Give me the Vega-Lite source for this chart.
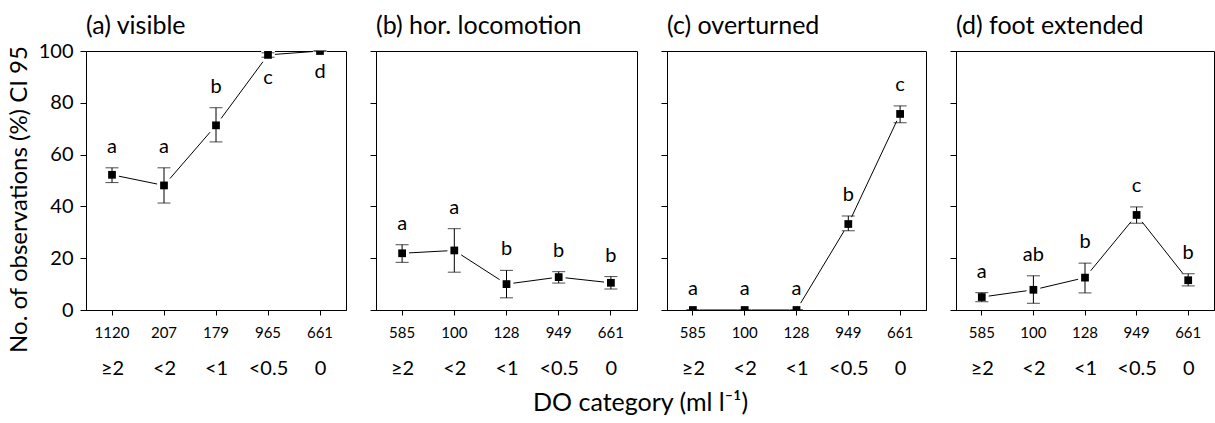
{
  "$schema": "https://vega.github.io/schema/vega-lite/v6.json",
  "background": "white",
  "padding": {"left": 6, "top": 13, "right": 0, "bottom": 5},
  "datasets": {
    "obs": [
      {"panel": "a", "cat": "≥2", "n": "1120", "p": 52.2, "lo": 49.2, "hi": 54.9, "sig": "a"},
      {"panel": "a", "cat": "<2", "n": "207", "p": 48.1, "lo": 41.3, "hi": 54.9, "sig": "a"},
      {"panel": "a", "cat": "<1", "n": "179", "p": 71.3, "lo": 64.9, "hi": 78.1, "sig": "b"},
      {"panel": "a", "cat": "<0.5", "n": "965", "p": 98.5, "lo": 97.6, "hi": 99.3, "sig": "c"},
      {"panel": "a", "cat": "0", "n": "661", "p": 100, "lo": 100, "hi": 100, "sig": "d"},
      {"panel": "b", "cat": "≥2", "n": "585", "p": 21.9, "lo": 18.4, "hi": 25.2, "sig": "a"},
      {"panel": "b", "cat": "<2", "n": "100", "p": 23.0, "lo": 14.6, "hi": 31.4, "sig": "a"},
      {"panel": "b", "cat": "<1", "n": "128", "p": 10.0, "lo": 4.7, "hi": 15.3, "sig": "b"},
      {"panel": "b", "cat": "<0.5", "n": "949", "p": 12.7, "lo": 10.4, "hi": 14.8, "sig": "b"},
      {"panel": "b", "cat": "0", "n": "661", "p": 10.5, "lo": 8.1, "hi": 12.9, "sig": "b"},
      {"panel": "c", "cat": "≥2", "n": "585", "p": 0, "lo": 0, "hi": 0, "sig": "a"},
      {"panel": "c", "cat": "<2", "n": "100", "p": 0, "lo": 0, "hi": 0, "sig": "a"},
      {"panel": "c", "cat": "<1", "n": "128", "p": 0, "lo": 0, "hi": 0, "sig": "a"},
      {"panel": "c", "cat": "<0.5", "n": "949", "p": 33.2, "lo": 30.6, "hi": 36.3, "sig": "b"},
      {"panel": "c", "cat": "0", "n": "661", "p": 75.7, "lo": 72.3, "hi": 78.8, "sig": "c"},
      {"panel": "d", "cat": "≥2", "n": "585", "p": 5.0, "lo": 3.2, "hi": 6.7, "sig": "a"},
      {"panel": "d", "cat": "<2", "n": "100", "p": 7.8, "lo": 2.6, "hi": 13.2, "sig": "ab"},
      {"panel": "d", "cat": "<1", "n": "128", "p": 12.5, "lo": 6.6, "hi": 18.1, "sig": "b"},
      {"panel": "d", "cat": "<0.5", "n": "949", "p": 36.7, "lo": 33.5, "hi": 39.8, "sig": "c"},
      {"panel": "d", "cat": "0", "n": "661", "p": 11.5, "lo": 9.3, "hi": 14.0, "sig": "b"}
    ]
  },
  "data": {"name": "obs"},
  "title": {"text": "DO category (ml l⁻¹)", "orient": "bottom", "anchor": "middle", "frame": "bounds", "fontSize": 25, "offset": 12, "dx": 30},
  "spacing": 30,
  "bounds": "flush",
  "hconcat": [
    {
      "width": 260, "height": 259,
      "title": {"text": "(a) visible", "offset": 2},
      "transform": [{"filter": "datum.panel === 'a'"}],
      "resolve": {"scale": {"x": "independent"}},
      "layer": [
        {
          "encoding": {"x": {"field": "n", "type": "nominal", "sort": null, "axis": {"orient": "bottom", "title": null, "labelAngle": 0, "labelFontSize": 15, "tickSize": 5, "labelPadding": 10}}},
          "layer": [
            {"mark": {"type": "line", "strokeWidth": 1, "clip": true}, "encoding": {"y": {"field": "p", "type": "quantitative", "title": "No. of observations (%) CI 95", "scale": {"domain": [0, 100], "nice": false}, "axis": {"values": [0, 20, 40, 60, 80, 100], "titleFontSize": 24, "titleFontWeight": "normal", "titleY": 148, "titlePadding": 7, "labelFontSize": 20, "tickSize": 6, "labelPadding": 7}}}},
            {"mark": {"type": "square", "filled": true, "color": "white", "opacity": 1, "size": 190, "clip": true}, "encoding": {"y": {"field": "p", "type": "quantitative", "title": "No. of observations (%) CI 95", "scale": {"domain": [0, 100], "nice": false}}}},
            {"mark": {"type": "rule", "strokeWidth": 1}, "encoding": {"y": {"field": "lo", "type": "quantitative", "title": "No. of observations (%) CI 95", "scale": {"domain": [0, 100], "nice": false}}, "y2": {"field": "hi"}}},
            {"mark": {"type": "tick", "size": 13, "thickness": 1, "orient": "horizontal"}, "encoding": {"y": {"field": "lo", "type": "quantitative", "title": "No. of observations (%) CI 95", "scale": {"domain": [0, 100], "nice": false}}}},
            {"mark": {"type": "tick", "size": 13, "thickness": 1, "orient": "horizontal"}, "encoding": {"y": {"field": "hi", "type": "quantitative", "title": "No. of observations (%) CI 95", "scale": {"domain": [0, 100], "nice": false}}}},
            {"mark": {"type": "square", "filled": true, "opacity": 1, "size": 60, "clip": true}, "encoding": {"y": {"field": "p", "type": "quantitative", "title": "No. of observations (%) CI 95", "scale": {"domain": [0, 100], "nice": false}}}},
            {"transform": [{"filter": "datum.hi < 99"}], "mark": {"type": "text", "dy": -21, "fontSize": 20, "baseline": "middle"}, "encoding": {"y": {"field": "hi", "type": "quantitative", "title": "No. of observations (%) CI 95", "scale": {"domain": [0, 100], "nice": false}}, "text": {"field": "sig"}}},
            {"transform": [{"filter": "datum.hi >= 99"}], "mark": {"type": "text", "dy": 21, "fontSize": 20, "baseline": "middle"}, "encoding": {"y": {"field": "lo", "type": "quantitative", "title": "No. of observations (%) CI 95", "scale": {"domain": [0, 100], "nice": false}}, "text": {"field": "sig"}}}
          ]
        },
        {"mark": {"type": "text", "text": ""}, "encoding": {"x": {"field": "cat", "type": "nominal", "sort": null, "axis": {"orient": "bottom", "title": null, "labelAngle": 0, "labelFontSize": 20, "domain": false, "ticks": false, "labelPadding": 48}}}}
      ]
    },
    {
      "width": 261, "height": 259,
      "title": {"text": "(b) hor. locomotion"},
      "transform": [{"filter": "datum.panel === 'b'"}],
      "resolve": {"scale": {"x": "independent"}},
      "layer": [
        {
          "encoding": {"x": {"field": "n", "type": "nominal", "sort": null, "axis": {"orient": "bottom", "title": null, "labelAngle": 0, "labelFontSize": 15, "tickSize": 5, "labelPadding": 10}}},
          "layer": [
            {"mark": {"type": "line", "strokeWidth": 1, "clip": true}, "encoding": {"y": {"field": "p", "type": "quantitative", "title": null, "scale": {"domain": [0, 100], "nice": false}, "axis": {"values": [0, 20, 40, 60, 80, 100], "labels": false, "tickSize": 6}}}},
            {"mark": {"type": "square", "filled": true, "color": "white", "opacity": 1, "size": 190, "clip": true}, "encoding": {"y": {"field": "p", "type": "quantitative", "title": null, "scale": {"domain": [0, 100], "nice": false}}}},
            {"mark": {"type": "rule", "strokeWidth": 1}, "encoding": {"y": {"field": "lo", "type": "quantitative", "title": null, "scale": {"domain": [0, 100], "nice": false}}, "y2": {"field": "hi"}}},
            {"mark": {"type": "tick", "size": 13, "thickness": 1, "orient": "horizontal"}, "encoding": {"y": {"field": "lo", "type": "quantitative", "title": null, "scale": {"domain": [0, 100], "nice": false}}}},
            {"mark": {"type": "tick", "size": 13, "thickness": 1, "orient": "horizontal"}, "encoding": {"y": {"field": "hi", "type": "quantitative", "title": null, "scale": {"domain": [0, 100], "nice": false}}}},
            {"mark": {"type": "square", "filled": true, "opacity": 1, "size": 60, "clip": true}, "encoding": {"y": {"field": "p", "type": "quantitative", "title": null, "scale": {"domain": [0, 100], "nice": false}}}},
            {"transform": [{"filter": "datum.hi < 99"}], "mark": {"type": "text", "dy": -21, "fontSize": 20, "baseline": "middle"}, "encoding": {"y": {"field": "hi", "type": "quantitative", "title": null, "scale": {"domain": [0, 100], "nice": false}}, "text": {"field": "sig"}}}
          ]
        },
        {"mark": {"type": "text", "text": ""}, "encoding": {"x": {"field": "cat", "type": "nominal", "sort": null, "axis": {"orient": "bottom", "title": null, "labelAngle": 0, "labelFontSize": 20, "domain": false, "ticks": false, "labelPadding": 48}}}}
      ]
    },
    {
      "width": 259, "height": 259,
      "title": {"text": "(c) overturned"},
      "transform": [{"filter": "datum.panel === 'c'"}],
      "resolve": {"scale": {"x": "independent"}},
      "layer": [
        {
          "encoding": {"x": {"field": "n", "type": "nominal", "sort": null, "axis": {"orient": "bottom", "title": null, "labelAngle": 0, "labelFontSize": 15, "tickSize": 5, "labelPadding": 10}}},
          "layer": [
            {"mark": {"type": "line", "strokeWidth": 1, "clip": true}, "encoding": {"y": {"field": "p", "type": "quantitative", "title": null, "scale": {"domain": [0, 100], "nice": false}, "axis": {"values": [0, 20, 40, 60, 80, 100], "labels": false, "tickSize": 6}}}},
            {"mark": {"type": "square", "filled": true, "color": "white", "opacity": 1, "size": 190, "clip": true}, "encoding": {"y": {"field": "p", "type": "quantitative", "title": null, "scale": {"domain": [0, 100], "nice": false}}}},
            {"mark": {"type": "rule", "strokeWidth": 1}, "encoding": {"y": {"field": "lo", "type": "quantitative", "title": null, "scale": {"domain": [0, 100], "nice": false}}, "y2": {"field": "hi"}}},
            {"mark": {"type": "tick", "size": 13, "thickness": 1, "orient": "horizontal", "clip": true}, "encoding": {"y": {"field": "lo", "type": "quantitative", "title": null, "scale": {"domain": [0, 100], "nice": false}}}},
            {"mark": {"type": "tick", "size": 13, "thickness": 1, "orient": "horizontal", "clip": true}, "encoding": {"y": {"field": "hi", "type": "quantitative", "title": null, "scale": {"domain": [0, 100], "nice": false}}}},
            {"mark": {"type": "square", "filled": true, "opacity": 1, "size": 60, "clip": true}, "encoding": {"y": {"field": "p", "type": "quantitative", "title": null, "scale": {"domain": [0, 100], "nice": false}}}},
            {"transform": [{"filter": "datum.hi < 99"}], "mark": {"type": "text", "dy": -21, "fontSize": 20, "baseline": "middle"}, "encoding": {"y": {"field": "hi", "type": "quantitative", "title": null, "scale": {"domain": [0, 100], "nice": false}}, "text": {"field": "sig"}}}
          ]
        },
        {"mark": {"type": "text", "text": ""}, "encoding": {"x": {"field": "cat", "type": "nominal", "sort": null, "axis": {"orient": "bottom", "title": null, "labelAngle": 0, "labelFontSize": 20, "domain": false, "ticks": false, "labelPadding": 48}}}}
      ]
    },
    {
      "width": 258, "height": 259,
      "title": {"text": "(d) foot extended"},
      "transform": [{"filter": "datum.panel === 'd'"}],
      "resolve": {"scale": {"x": "independent"}},
      "layer": [
        {
          "encoding": {"x": {"field": "n", "type": "nominal", "sort": null, "axis": {"orient": "bottom", "title": null, "labelAngle": 0, "labelFontSize": 15, "tickSize": 5, "labelPadding": 10}}},
          "layer": [
            {"mark": {"type": "line", "strokeWidth": 1, "clip": true}, "encoding": {"y": {"field": "p", "type": "quantitative", "title": null, "scale": {"domain": [0, 100], "nice": false}, "axis": {"values": [0, 20, 40, 60, 80, 100], "labels": false, "tickSize": 6}}}},
            {"mark": {"type": "square", "filled": true, "color": "white", "opacity": 1, "size": 190, "clip": true}, "encoding": {"y": {"field": "p", "type": "quantitative", "title": null, "scale": {"domain": [0, 100], "nice": false}}}},
            {"mark": {"type": "rule", "strokeWidth": 1}, "encoding": {"y": {"field": "lo", "type": "quantitative", "title": null, "scale": {"domain": [0, 100], "nice": false}}, "y2": {"field": "hi"}}},
            {"mark": {"type": "tick", "size": 13, "thickness": 1, "orient": "horizontal"}, "encoding": {"y": {"field": "lo", "type": "quantitative", "title": null, "scale": {"domain": [0, 100], "nice": false}}}},
            {"mark": {"type": "tick", "size": 13, "thickness": 1, "orient": "horizontal"}, "encoding": {"y": {"field": "hi", "type": "quantitative", "title": null, "scale": {"domain": [0, 100], "nice": false}}}},
            {"mark": {"type": "square", "filled": true, "opacity": 1, "size": 60, "clip": true}, "encoding": {"y": {"field": "p", "type": "quantitative", "title": null, "scale": {"domain": [0, 100], "nice": false}}}},
            {"transform": [{"filter": "datum.hi < 99"}], "mark": {"type": "text", "dy": -21, "fontSize": 20, "baseline": "middle"}, "encoding": {"y": {"field": "hi", "type": "quantitative", "title": null, "scale": {"domain": [0, 100], "nice": false}}, "text": {"field": "sig"}}}
          ]
        },
        {"mark": {"type": "text", "text": ""}, "encoding": {"x": {"field": "cat", "type": "nominal", "sort": null, "axis": {"orient": "bottom", "title": null, "labelAngle": 0, "labelFontSize": 20, "domain": false, "ticks": false, "labelPadding": 48}}}}
      ]
    }
  ],
  "config": {
    "font": "Lato",
    "mark": {"color": "black"},
    "view": {"stroke": "black", "strokeWidth": 1},
    "axis": {"grid": false, "labelFont": "Lato", "titleFont": "Lato", "domainColor": "black", "tickColor": "black", "labelColor": "black", "titleColor": "black"},
    "title": {"font": "Lato", "fontWeight": "normal", "fontSize": 25, "anchor": "start", "frame": "group", "color": "black", "offset": 12},
    "text": {"font": "Lato", "color": "black"}
  }
}
